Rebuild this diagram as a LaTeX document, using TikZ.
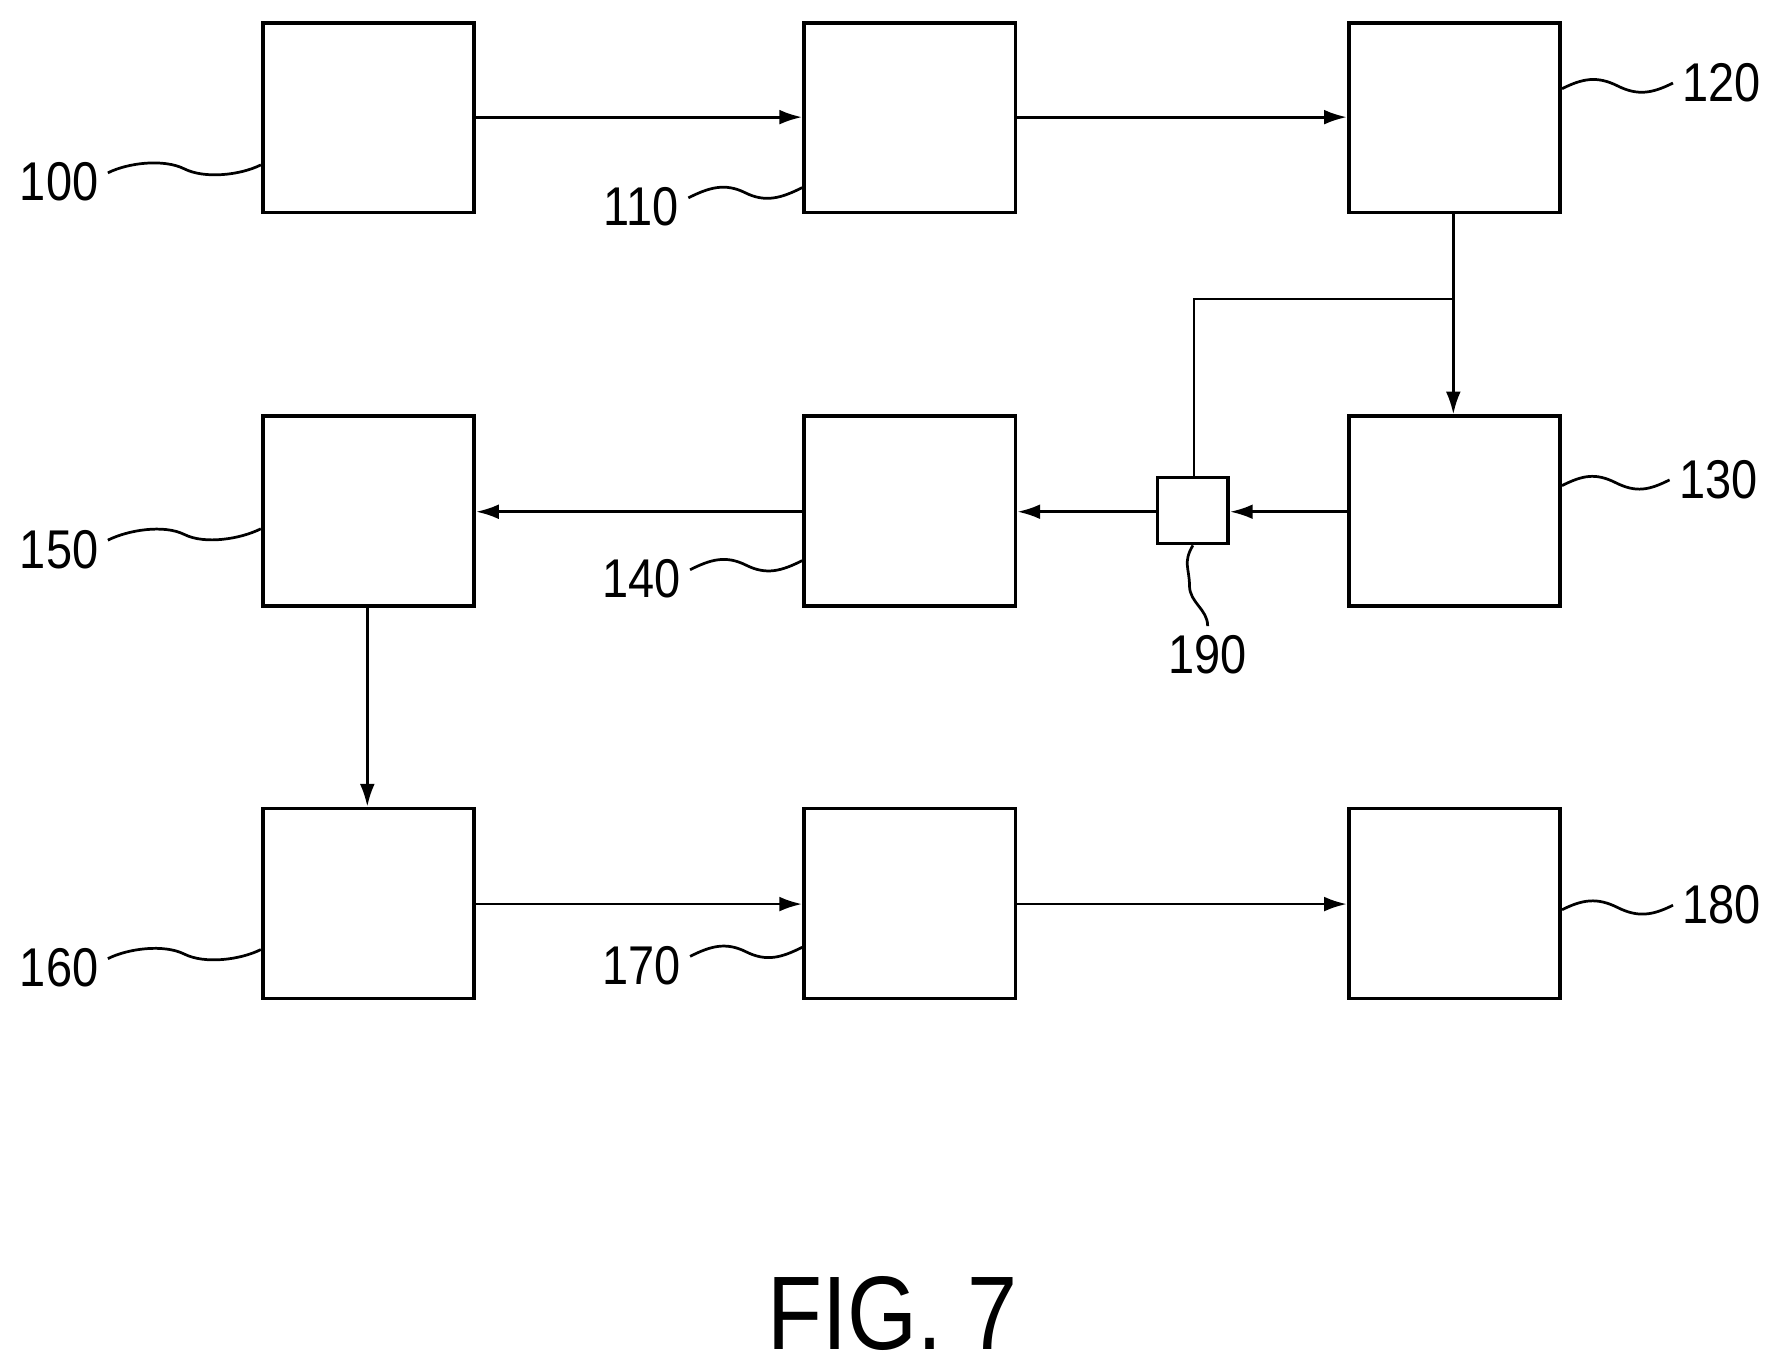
\documentclass[tikz,border=0pt]{standalone}
\usepackage{fontspec}
\setmainfont{Liberation Sans}
\newfontfamily\nar[FakeStretch=0.86]{Liberation Sans}
\usetikzlibrary{arrows.meta,calc}
\begin{document}
\begin{tikzpicture}[x=0.5pt,y=-0.5pt,
 box/.style={draw,line width=1.6pt,minimum width=93pt,minimum height=83.5pt,inner sep=0pt},
 arr/.style={line width=1.2pt,-{Latex[length=10pt,width=6.5pt]}},
 ln/.style={line width=1.2pt},
 sq/.style={line width=1.2pt,to path={.. controls +(18,-9) and +(-18,-9) .. ($(\tikztostart)!0.5!(\tikztotarget)$) .. controls +(18,9) and +(-18,9) .. (\tikztotarget)}},
 lab/.style={font=\nar\fontsize{24}{24}\selectfont,inner sep=0pt}]
\useasboundingbox (0,0) rectangle (1560,1206);
\node[box] (b100) at (324,103.5) {};
\node[box] (b110) at (800,103.5) {};
\node[box] (b120) at (1279,103.5) {};
\node[box] (b150) at (324,449.5) {};
\node[box] (b140) at (800,449.5) {};
\node[box] (b130) at (1279,449.5) {};
\node[box] (b160) at (324,794.5) {};
\node[box] (b170) at (800,794.5) {};
\node[box] (b180) at (1279,794.5) {};
\node[draw,line width=1.6pt,minimum width=31pt,minimum height=29pt,inner sep=0pt] (b190) at (1049,449) {};
\draw[arr] (b100.east|-0,103) -- (b110.west|-0,103);
\draw[arr] (b110.east|-0,103) -- (b120.west|-0,103);
\draw[arr] (b120.south-|1278,0) -- (b130.north-|1278,0);
\coordinate (j) at (1278,263);
\draw[ln] (j) -- (1050,263) -- (b190.north-|1050,0);
\draw[arr] (b130.west|-0,450) -- (b190.east|-0,450);
\draw[arr] (b190.west|-0,450) -- (b140.east|-0,450);
\draw[arr] (b140.west|-0,450) -- (b150.east|-0,450);
\draw[arr] (b150.south-|323,0) -- (b160.north-|323,0);
\draw[arr] (b160.east|-0,795) -- (b170.west|-0,795);
\draw[arr] (b170.east|-0,795) -- (b180.west|-0,795);
% labels
\node[lab] (l100) at (52,160) {100};
\node[lab] (l110) at (564,182) {110};
\node[lab] (l120) at (1514,73) {120};
\node[lab] (l130) at (1511,422) {130};
\node[lab] (l150) at (52,483) {150};
\node[lab] (l140) at (564,509) {140};
\node[lab] (l190) at (1062,576) {190};
\node[lab] (l160) at (52,851) {160};
\node[lab] (l170) at (564,849) {170};
\node[lab] (l180) at (1514,796) {180};
\draw[sq] ([xshift=4pt,yshift=4pt]l100.east) to (b100.west|-0,145);
\draw[sq] ([xshift=4pt,yshift=4pt]l110.east) to (b110.west|-0,165);
\draw[sq] ([xshift=4pt,yshift=4pt]l150.east) to (b150.west|-0,465);
\draw[sq] ([xshift=4pt,yshift=4pt]l140.east) to (b140.west|-0,493);
\draw[sq] ([xshift=4pt,yshift=4pt]l160.east) to (b160.west|-0,835);
\draw[sq] ([xshift=4pt,yshift=4pt]l170.east) to (b170.west|-0,833);
\draw[sq] (b120.east|-0,78) to ([xshift=-4pt]l120.west);
\draw[sq] (b130.east|-0,427) to ([xshift=-4pt]l130.west);
\draw[sq] (b180.east|-0,800) to ([xshift=-4pt]l180.west);
\draw[line width=1.2pt] (b190.south) .. controls +(-9,15) and +(0,-15) .. (1046,515) .. controls +(0,15) and +(0,-15) .. ([yshift=4pt]l190.north);
\node[font=\nar\fontsize{46}{46}\selectfont,inner sep=0pt] (fig) at (785,1155) {FIG. 7};
\end{tikzpicture}
\end{document}
